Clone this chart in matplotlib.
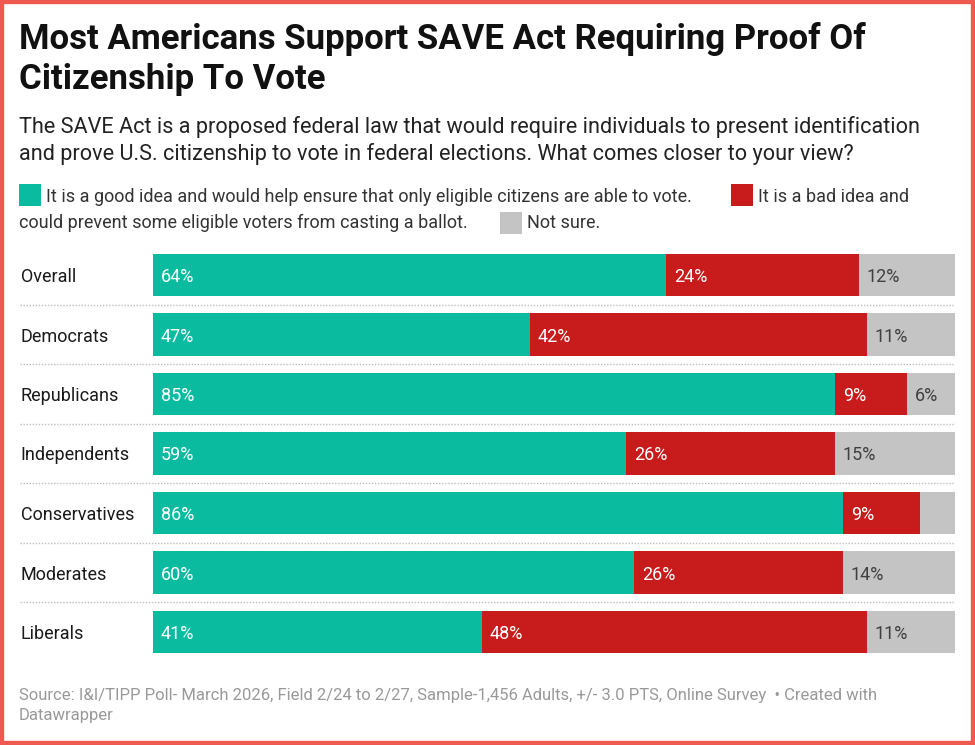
import matplotlib
matplotlib.use("Agg")
import matplotlib.pyplot as plt
from matplotlib.patches import Rectangle
from matplotlib.transforms import blended_transform_factory

plt.rcParams['font.family'] = ['Roboto', 'DejaVu Sans']

categories = ["Overall", "Democrats", "Republicans", "Independents", "Conservatives", "Moderates", "Liberals"]
good = [64, 47, 85, 59, 86, 60, 41]
bad = [24, 42, 9, 26, 9.6, 26, 48]
unsure = [12, 11, 6, 15, 4.4, 14, 11]
good_labels = ["64%", "47%", "85%", "59%", "86%", "60%", "41%"]
bad_labels = ["24%", "42%", "9%", "26%", "9%", "26%", "48%"]
unsure_labels = ["12%", "11%", "6%", "15%", "", "14%", "11%"]

title_lines = ["Most Americans Support SAVE Act Requiring Proof Of", "Citizenship To Vote"]
subtitle_lines = ["The SAVE Act is a proposed federal law that would require individuals to present identification",
                  "and prove U.S. citizenship to vote in federal elections. What comes closer to your view?"]
legend_1 = "It is a good idea and would help ensure that only eligible citizens are able to vote."
legend_2 = "It is a bad idea and"
legend_3 = "could prevent some eligible voters from casting a ballot."
legend_4 = "Not sure."
source_lines = ["Source: I&I/TIPP Poll- March 2026, Field 2/24 to 2/27, Sample-1,456 Adults, +/- 3.0 PTS, Online Survey  \u2022 Created with",
                "Datawrapper"]

GREEN, RED, GREY = "#0ABB9F", "#C81C1C", "#C4C4C4"
W, H = 975, 745

fig = plt.figure(figsize=(W / 100, H / 100), dpi=100, facecolor="white")

def fx(p): return p / W
def fy(p): return 1 - p / H

ax = fig.add_axes([fx(153), fy(661.75), (955 - 153) / W, (661.75 - 245.25) / H])
ax.set_xlim(0, 100)
ax.set_ylim(6.5, -0.5)
ax.axis("off")

ys = list(range(len(categories)))
h = 0.706
ax.barh(ys, good, height=h, color=GREEN)
ax.barh(ys, bad, left=good, height=h, color=RED)
lefts = [g + b for g, b in zip(good, bad)]
ax.barh(ys, unsure, left=lefts, height=h, color=GREY)

offset = 1.0
for i in ys:
    ax.text(offset, i, good_labels[i], color="white", fontsize=13, va="center_baseline", ha="left")
    ax.text(good[i] + offset, i, bad_labels[i], color="white", fontsize=13, va="center_baseline", ha="left")
    ax.text(lefts[i] + offset, i, unsure_labels[i], color="#404040", fontsize=13, va="center_baseline", ha="left")

tr = blended_transform_factory(fig.transFigure, ax.transData)
for i, c in enumerate(categories):
    ax.text(fx(20.5), i, c, transform=tr, color="#1a1a1a", fontsize=13, va="center_baseline", ha="left", clip_on=False)
for i in ys[:-1]:
    ax.plot([fx(20), fx(955)], [i + 0.5, i + 0.5], transform=tr, color="#BDBDBD", lw=1, ls=(0, (1, 1.2)), clip_on=False)

def T(x, y, s, **kw):
    fig.text(fx(x), fy(y), s, va="baseline", ha="left", **kw)

T(19, 49, title_lines[0], fontsize=25, fontweight="bold", color="#111111")
T(19, 89, title_lines[1], fontsize=25, fontweight="bold", color="#111111")
T(19, 133, subtitle_lines[0], fontsize=15.6, color="#222222")
T(19, 160, subtitle_lines[1], fontsize=15.6, color="#222222")

def swatch(x, y, c):
    fig.add_artist(Rectangle((fx(x), fy(y + 22)), 22 / W, 22 / H, transform=fig.transFigure, color=c, lw=0))

swatch(19, 184, GREEN)
swatch(731, 184, RED)
swatch(500, 212, GREY)
T(46, 202, legend_1, fontsize=13, color="#333333")
T(758, 202, legend_2, fontsize=13, color="#333333")
T(19, 228, legend_3, fontsize=13, color="#333333")
T(527, 228, legend_4, fontsize=13, color="#333333")

T(19, 700, source_lines[0], fontsize=12, color="#999999")
T(19, 720, source_lines[1], fontsize=12, color="#999999")

fig.add_artist(Rectangle((0, 0), 1, 1, transform=fig.transFigure, fill=False, ec="#EE5A50", lw=6))

fig.savefig("out.png", dpi=100, facecolor="white")
